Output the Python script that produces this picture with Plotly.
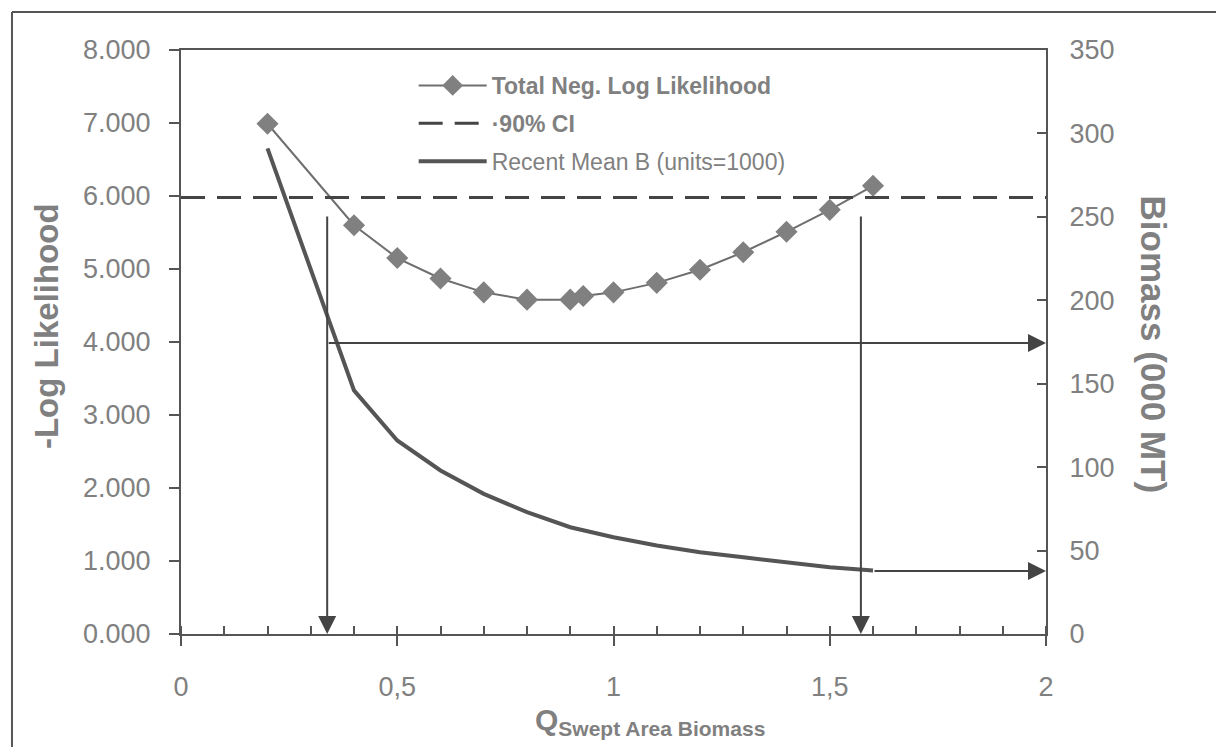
import plotly.graph_objects as go

# ---- data ----
q_nll = [0.2, 0.4, 0.5, 0.6, 0.7, 0.8, 0.9, 0.93, 1.0, 1.1, 1.2, 1.3, 1.4, 1.5, 1.6]
nll = [6.99, 5.60, 5.15, 4.87, 4.68, 4.58, 4.58, 4.63, 4.68, 4.81, 4.99, 5.23, 5.51, 5.81, 6.14]

q_ci = [0.0, 2.0]
ci_level = [5.98, 5.98]

q_bio = [0.2, 0.4, 0.5, 0.6, 0.7, 0.8, 0.9, 1.0, 1.1, 1.2, 1.3, 1.4, 1.5, 1.6]
biomass = [291, 146, 116, 98, 84, 73, 64, 58, 53, 49, 46, 43, 40, 38]

q_lower, q_upper = 0.338, 1.572
arrow_top_nll = 5.74
b_at_lower, b_at_upper = 174.4, 37.8

x_tickvals = [0, 0.5, 1, 1.5, 2]
x_ticktext = ["0", "0,5", "1", "1,5", "2"]

GRAY = "#808080"
DARK = "#555555"
FONT = "Liberation Sans, Arial, sans-serif"

fig = go.Figure()
fig.add_trace(go.Scatter(
    x=q_nll, y=nll, mode="lines+markers", name="<b>Total Neg. Log Likelihood</b>",
    legendgroup="a",
    line=dict(color="#6e6e6e", width=2),
    marker=dict(symbol="diamond", size=17, color=GRAY),
))
fig.add_trace(go.Scatter(
    x=q_ci, y=ci_level, mode="lines", name="<b>·90% CI</b>", legendgroup="b",
    line=dict(color="#444444", width=3, dash="24px,12px"),
))
fig.add_trace(go.Scatter(
    x=q_bio, y=biomass, mode="lines", name="Recent Mean B (units=1000)",
    legendgroup="c",
    line=dict(color=DARK, width=4), yaxis="y2",
))

arrow_common = dict(text="", showarrow=True, arrowhead=2, arrowsize=1.8,
                    arrowwidth=2, arrowcolor="#444444", standoff=0)
fig.add_annotation(x=q_lower, y=0, ax=q_lower, ay=arrow_top_nll,
                   xref="x", yref="y", axref="x", ayref="y", **arrow_common)
fig.add_annotation(x=q_upper, y=0, ax=q_upper, ay=arrow_top_nll,
                   xref="x", yref="y", axref="x", ayref="y", **arrow_common)
fig.add_annotation(x=2, y=b_at_lower, ax=q_lower, ay=b_at_lower,
                   xref="x", yref="y2", axref="x", ayref="y2", **arrow_common)
fig.add_annotation(x=2, y=b_at_upper, ax=q_bio[-1], ay=b_at_upper,
                   xref="x", yref="y2", axref="x", ayref="y2", **arrow_common)

# axis titles
fig.add_annotation(text="<b>-Log Likelihood</b>", xref="paper", yref="paper",
                   x=-0.180, y=0.527, textangle=-90, showarrow=False,
                   font=dict(size=33, color=GRAY))
fig.add_annotation(text="<b>Biomass (000 MT)</b>", xref="paper", yref="paper",
                   x=1.149, y=0.495, textangle=90, showarrow=False,
                   font=dict(size=35, color=GRAY))
fig.add_annotation(text="<b>Q<sub>Swept Area Biomass</sub></b>", xref="paper", yref="paper",
                   x=0.542, y=-0.185, showarrow=False,
                   font=dict(size=30, color=GRAY))

# outer frame of the scanned figure
fig.add_shape(type="line", xref="paper", yref="paper", x0=-0.1954, x1=-0.1954,
              y0=-0.25, y1=1.065, line=dict(color=DARK, width=2))
fig.add_shape(type="line", xref="paper", yref="paper", x0=-0.1954, x1=1.22,
              y0=1.065, y1=1.065, line=dict(color=DARK, width=2))

fig.update_layout(
    width=1224, height=747,
    margin=dict(l=173, r=186, t=42, b=121),
    paper_bgcolor="white", plot_bgcolor="white",
    font=dict(family=FONT, color=GRAY),
    showlegend=True,
    legend=dict(x=0.269, y=0.976, xanchor="left", yanchor="top",
                bgcolor="rgba(0,0,0,0)", font=dict(size=23, color=GRAY),
                itemwidth=68, tracegroupgap=5),
    xaxis=dict(
        range=[0, 2], tickvals=x_tickvals, ticktext=x_ticktext,
        showgrid=False, zeroline=False,
        showline=True, linecolor=DARK, linewidth=2, mirror=True,
        ticks="outside", ticklen=10, tickcolor=DARK, tickwidth=2,
        minor=dict(dtick=0.1, ticks="inside", ticklen=8, tickcolor=DARK, tickwidth=1.5),
        tickfont=dict(size=27, color=GRAY), ticklabelstandoff=18,
    ),
    yaxis=dict(
        range=[0, 8], dtick=1, tickformat=".3f",
        showgrid=False, zeroline=False,
        showline=True, linecolor=DARK, linewidth=2,
        ticks="outside", ticklen=10, tickcolor=DARK, tickwidth=2,
        tickfont=dict(size=27, color=GRAY), ticklabelstandoff=13,
    ),
    yaxis2=dict(
        range=[0, 350], dtick=50, overlaying="y", side="right",
        showgrid=False, zeroline=False,
        showline=True, linecolor=DARK, linewidth=2,
        ticks="inside", ticklen=9, tickcolor=DARK, tickwidth=2,
        tickfont=dict(size=27, color=GRAY), ticklabelstandoff=16,
    ),
)

fig.write_html("out.html")
